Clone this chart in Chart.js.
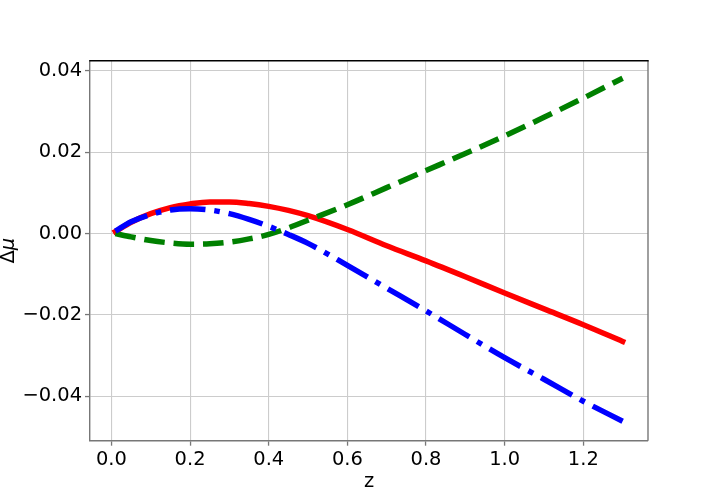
<!DOCTYPE html>
<html>
<head>
<meta charset="utf-8">
<script src="https://cdn.jsdelivr.net/npm/chart.js@4/dist/chart.umd.min.js"></script>
<style>
  html, body { margin: 0; padding: 0; background: #fff; }
  #wrap { width: 720px; height: 504px; }
</style>
</head>
<body>
<div id="wrap"><canvas id="c" width="720" height="504"></canvas></div>
<script>
// Data
const zValues = [0.01, 0.05, 0.10, 0.15, 0.20, 0.25, 0.30, 0.35, 0.40, 0.45, 0.50, 0.60, 0.70, 0.80, 0.90, 1.00, 1.10, 1.20, 1.30];
const redSeries   = [0.0005, 0.0028, 0.0049, 0.0064, 0.0073, 0.0078, 0.0078, 0.0074, 0.0067, 0.0057, 0.0044, 0.0010, -0.0030, -0.0067, -0.0106, -0.0146, -0.0185, -0.0224, -0.0265];
const greenSeries = [0.0000, -0.0008, -0.0017, -0.0023, -0.0026, -0.0025, -0.0021, -0.0013, -0.0002, 0.0014, 0.0033, 0.0071, 0.0113, 0.0155, 0.0197, 0.0240, 0.0286, 0.0333, 0.0382];
const blueSeries  = [0.0006, 0.0029, 0.0047, 0.0058, 0.0061, 0.0058, 0.0049, 0.0035, 0.0018, -0.0002, -0.0024, -0.0078, -0.0134, -0.0190, -0.0248, -0.0305, -0.0358, -0.0412, -0.0461];
const xTickStep = 0.2;
const yTickStep = 0.02;
const xLabel = 'z';
const yLabel = 'Δμ';

const toPts = arr => zValues.map((z, i) => ({ x: z, y: arr[i] }));
const FONT = '"DejaVu Sans", "Liberation Sans", sans-serif';
const FS = 19.44;

const framePlugin = {
  id: 'frame',
  afterDraw(chart) {
    const { ctx, chartArea: a } = chart;
    ctx.save();
    // right spine
    ctx.strokeStyle = '#777777';
    ctx.lineWidth = 1.4;
    ctx.beginPath();
    ctx.moveTo(a.right, a.top);
    ctx.lineTo(a.right, a.bottom);
    ctx.stroke();
    // top spine
    ctx.strokeStyle = '#000000';
    ctx.beginPath();
    ctx.moveTo(a.left - 0.7, a.top);
    ctx.lineTo(a.right + 0.7, a.top);
    ctx.stroke();
    // axis titles
    ctx.fillStyle = '#000';
    ctx.font = FS + 'px ' + FONT;
    ctx.textAlign = 'center';
    ctx.textBaseline = 'alphabetic';
    ctx.fillText(xLabel, (a.left + a.right) / 2, 486.5);
    ctx.translate(14, (a.top + a.bottom) / 2);
    ctx.rotate(-Math.PI / 2);
    // Δ upright, μ italic (mathtext style)
    ctx.textAlign = 'left';
    const f1 = FS + 'px ' + FONT;
    const f2 = 'italic ' + FS + 'px ' + FONT;
    ctx.font = f1; const w1 = ctx.measureText('Δ').width;
    ctx.font = f2; const w2 = ctx.measureText('μ').width;
    const start = -(w1 + w2) / 2;
    ctx.font = f1; ctx.fillText('Δ', start, 0);
    ctx.font = f2; ctx.fillText('μ', start + w1, 0);
    ctx.restore();
  }
};

const common = {
  borderWidth: 5.5,
  pointRadius: 0,
  fill: false,
  cubicInterpolationMode: 'monotone',
  borderCapStyle: 'butt',
  borderJoinStyle: 'round'
};

new Chart(document.getElementById('c'), {
  type: 'line',
  data: {
    datasets: [
      Object.assign({ label: 'blue', data: toPts(blueSeries), borderColor: '#0000ff', borderDash: [35.6, 8.9, 5.6, 8.9] }, common),
      Object.assign({ label: 'green', data: toPts(greenSeries), borderColor: '#008000', borderDash: [20.6, 8.9] }, common),
      Object.assign({ label: 'red', data: toPts(redSeries), borderColor: '#ff0000', borderCapStyle: 'square' }, common, { borderCapStyle: 'square' })
    ]
  },
  options: {
    responsive: false,
    animation: false,
    devicePixelRatio: 1,
    layout: { padding: { left: 0, right: 72, top: 60.7, bottom: 0 } },
    plugins: { legend: { display: false }, tooltip: { enabled: false } },
    scales: {
      x: {
        type: 'linear',
        min: -0.0545,
        max: 1.3645,
        afterFit(s) { s.height = 504 - 440.7; },
        ticks: {
          stepSize: xTickStep,
          includeBounds: false,
          padding: 3,
          color: '#000',
          font: { family: FONT, size: FS },
          maxRotation: 0,
          autoSkip: false,
          callback: v => (Math.abs(v) < 1e-9 ? 0 : v).toFixed(1)
        },
        grid: { color: '#cccccc', lineWidth: 1.1, tickColor: '#777777', tickLength: 5, tickWidth: 1.3 },
        border: { display: true, color: '#777777', width: 1.4 }
      },
      y: {
        type: 'linear',
        min: -0.0509,
        max: 0.0425,
        afterFit(s) { s.width = 90; },
        ticks: {
          stepSize: yTickStep,
          includeBounds: false,
          padding: 3,
          color: '#000',
          font: { family: FONT, size: FS },
          autoSkip: false,
          callback: v => {
            const r = Math.round(v * 100) / 100;
            if (Math.abs(r) < 1e-9) return '0.00';
            return r < 0 ? '\u2212' + Math.abs(r).toFixed(2) : r.toFixed(2);
          }
        },
        grid: { color: '#cccccc', lineWidth: 1.1, tickColor: '#777777', tickLength: 5, tickWidth: 1.3 },
        border: { display: true, color: '#777777', width: 1.4 }
      }
    }
  },
  plugins: [framePlugin]
});
</script>
</body>
</html>
